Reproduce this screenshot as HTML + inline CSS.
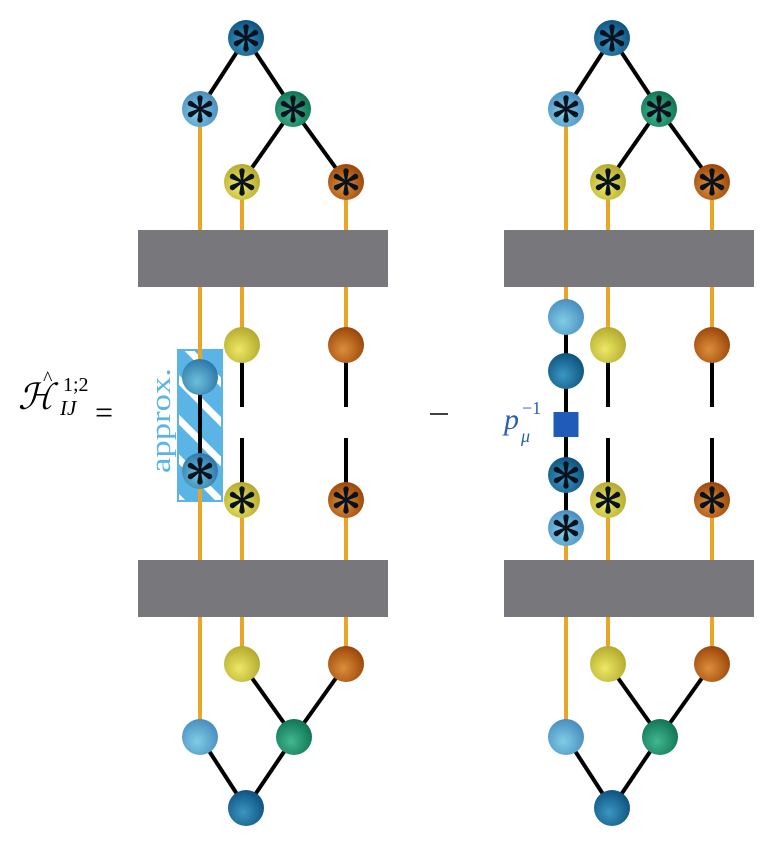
<!DOCTYPE html>
<html><head><meta charset="utf-8"><style>
html,body{margin:0;padding:0;background:#fff;}
svg{display:block;}
</style></head><body>
<svg width="776" height="844" viewBox="0 0 776 844" xmlns="http://www.w3.org/2000/svg">
<defs>
<radialGradient id="db" cx="0.42" cy="0.62" r="0.62"><stop offset="0" stop-color="#3a97c2"/><stop offset="1" stop-color="#0f537f"/></radialGradient>
<radialGradient id="lb" cx="0.42" cy="0.62" r="0.62"><stop offset="0" stop-color="#80cde4"/><stop offset="1" stop-color="#4a8ec0"/></radialGradient>
<radialGradient id="mb" cx="0.42" cy="0.62" r="0.62"><stop offset="0" stop-color="#6cc0da"/><stop offset="1" stop-color="#2f78aa"/></radialGradient>
<radialGradient id="gr" cx="0.42" cy="0.62" r="0.62"><stop offset="0" stop-color="#42b88e"/><stop offset="1" stop-color="#117556"/></radialGradient>
<radialGradient id="ye" cx="0.42" cy="0.62" r="0.62"><stop offset="0" stop-color="#ece864"/><stop offset="1" stop-color="#b5aa2e"/></radialGradient>
<radialGradient id="or" cx="0.42" cy="0.62" r="0.62"><stop offset="0" stop-color="#dc8e3a"/><stop offset="1" stop-color="#9c470b"/></radialGradient>
<pattern id="stripes" width="28" height="28" patternUnits="userSpaceOnUse" patternTransform="translate(178,350) rotate(-45)">
<rect width="28" height="28" fill="#5ab4e6"/><rect x="4" width="7" height="28" fill="#fff"/>
</pattern>
<g id="ast">
<path d="M-0.9,0 L-2.7,-11 A2.7,2.7 0 1 1 2.7,-11 L0.9,0 Z" fill="#08121e"/>
<path d="M-0.9,0 L-2.7,-11 A2.7,2.7 0 1 1 2.7,-11 L0.9,0 Z" fill="#08121e" transform="rotate(60)"/>
<path d="M-0.9,0 L-2.7,-11 A2.7,2.7 0 1 1 2.7,-11 L0.9,0 Z" fill="#08121e" transform="rotate(120)"/>
<path d="M-0.9,0 L-2.7,-11 A2.7,2.7 0 1 1 2.7,-11 L0.9,0 Z" fill="#08121e" transform="rotate(180)"/>
<path d="M-0.9,0 L-2.7,-11 A2.7,2.7 0 1 1 2.7,-11 L0.9,0 Z" fill="#08121e" transform="rotate(240)"/>
<path d="M-0.9,0 L-2.7,-11 A2.7,2.7 0 1 1 2.7,-11 L0.9,0 Z" fill="#08121e" transform="rotate(300)"/>
<circle r="2.4" fill="#08121e"/>
</g>
<g id="common">
<g stroke="#000" stroke-width="4">
<line x1="246" y1="38" x2="200" y2="109"/>
<line x1="246" y1="38" x2="293" y2="109"/>
<line x1="293" y1="109" x2="242" y2="182"/>
<line x1="293" y1="109" x2="346" y2="182"/>
<line x1="242" y1="664" x2="294" y2="737"/>
<line x1="346" y1="664" x2="294" y2="737"/>
<line x1="200" y1="737" x2="246" y2="808"/>
<line x1="294" y1="737" x2="246" y2="808"/>
</g>
<g stroke="#e9a526" stroke-width="4">
<line x1="242" y1="182" x2="242" y2="345"/>
<line x1="346" y1="182" x2="346" y2="345"/>
<line x1="242" y1="500" x2="242" y2="664"/>
<line x1="346" y1="500" x2="346" y2="664"/>
</g>
<g stroke="#000" stroke-width="4">
<line x1="242" y1="345" x2="242" y2="407"/>
<line x1="242" y1="438" x2="242" y2="500"/>
<line x1="346" y1="345" x2="346" y2="407"/>
<line x1="346" y1="438" x2="346" y2="500"/>
</g>
</g>
<g id="boxes">
<rect x="138" y="230" width="250" height="57" fill="#78777c"/>
<rect x="138" y="560" width="250" height="57" fill="#78777c"/>
</g>
<g id="nodes">
<circle cx="246" cy="38" r="18" fill="url(#db)"/><use href="#ast" x="246" y="38"/>
<circle cx="200" cy="109" r="18" fill="url(#lb)"/><use href="#ast" x="200" y="109"/>
<circle cx="293" cy="109" r="18" fill="url(#gr)"/><use href="#ast" x="293" y="109"/>
<circle cx="242" cy="182" r="18" fill="url(#ye)"/><use href="#ast" x="242" y="182"/>
<circle cx="346" cy="182" r="18" fill="url(#or)"/><use href="#ast" x="346" y="182"/>
<circle cx="242" cy="345" r="18" fill="url(#ye)"/>
<circle cx="346" cy="345" r="18" fill="url(#or)"/>
<circle cx="242" cy="500" r="18" fill="url(#ye)"/><use href="#ast" x="242" y="500"/>
<circle cx="346" cy="500" r="18" fill="url(#or)"/><use href="#ast" x="346" y="500"/>
<circle cx="242" cy="664" r="18" fill="url(#ye)"/>
<circle cx="346" cy="664" r="18" fill="url(#or)"/>
<circle cx="200" cy="737" r="18" fill="url(#lb)"/>
<circle cx="294" cy="737" r="18" fill="url(#gr)"/>
<circle cx="246" cy="808" r="18" fill="url(#db)"/>
</g>
</defs>

<!-- LEFT DIAGRAM -->
<rect x="178" y="350" width="44" height="151" fill="url(#stripes)" stroke="#5ab4e6" stroke-width="2"/>
<g stroke="#e9a526" stroke-width="4">
<line x1="200" y1="109" x2="200" y2="377"/>
<line x1="200" y1="471" x2="200" y2="737"/>
</g>
<line x1="200" y1="377" x2="200" y2="471" stroke="#000" stroke-width="4"/>
<use href="#common"/>
<use href="#boxes"/>
<use href="#nodes"/>
<circle cx="200" cy="377" r="18" fill="url(#mb)"/>
<circle cx="200" cy="471" r="18" fill="url(#mb)"/><use href="#ast" x="200" y="471"/>

<text transform="translate(170,473) rotate(-90)" font-family="Liberation Serif, serif" font-size="28" fill="#5ab4e6" textLength="105" lengthAdjust="spacingAndGlyphs">approx.</text>

<!-- H label -->
<text x="18" y="409" font-family="DejaVu Serif, Liberation Serif, serif" font-style="italic" font-size="36" fill="#000">ℋ</text>
<text x="43" y="385" font-family="Liberation Serif, serif" font-size="20" fill="#000">^</text>
<text x="63" y="391" font-family="Liberation Serif, serif" font-size="20" fill="#000">1;2</text>
<text x="60" y="415" font-family="Liberation Serif, serif" font-style="italic" font-size="21" fill="#000">IJ</text>
<text x="95" y="423" font-family="Liberation Serif, serif" font-size="32" fill="#000">=</text>

<!-- minus -->
<line x1="430" y1="414" x2="448" y2="414" stroke="#000" stroke-width="1.6"/>

<!-- RIGHT DIAGRAM -->
<g transform="translate(366,0)">
<g stroke="#e9a526" stroke-width="4">
<line x1="200" y1="109" x2="200" y2="317"/>
<line x1="200" y1="528" x2="200" y2="737"/>
</g>
<line x1="200" y1="317" x2="200" y2="528" stroke="#000" stroke-width="4"/>
<use href="#common"/>
<use href="#boxes"/>
<use href="#nodes"/>
<circle cx="200" cy="317" r="18" fill="url(#lb)"/>
<circle cx="200" cy="371" r="18" fill="url(#db)"/>
<rect x="187.5" y="412" width="25" height="25" fill="#1f5cba"/>
<circle cx="200" cy="475" r="18" fill="url(#db)"/><use href="#ast" x="200" y="475"/>
<circle cx="200" cy="528" r="18" fill="url(#lb)"/><use href="#ast" x="200" y="528"/>
</g>

<!-- p_mu^-1 -->
<text x="504" y="429" font-family="Liberation Serif, serif" font-style="italic" font-size="30" fill="#2a5fb0">p</text>
<text x="521" y="442" font-family="Liberation Serif, serif" font-style="italic" font-size="18" fill="#2a5fb0">μ</text>
<text x="522" y="414" font-family="Liberation Serif, serif" font-size="18" fill="#2a5fb0">−1</text>
</svg>
</body></html>
